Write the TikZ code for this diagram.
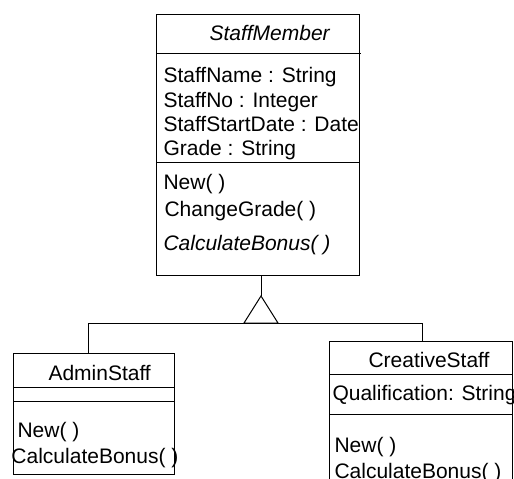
\documentclass[tikz,border=0pt]{standalone}
\usepackage{fontspec}
\setmainfont{Liberation Sans}
\begin{document}
\begin{tikzpicture}[x=1pt,y=-1pt,line width=1pt,
  txt/.style={anchor=base west,inner sep=0pt,font=\fontsize{21}{25}\selectfont},
  itxt/.style={txt,font=\fontsize{21}{25}\selectfont\itshape},
  cls/.style={draw,anchor=north west,inner sep=0pt}]
\useasboundingbox (0,0) rectangle (514,479);
% StaffMember
\node[cls,minimum width=203pt,minimum height=261pt] (sm) at (156,14) {};
\draw (156,53) -- (361,53);
\draw (156,162) -- (359,162);
\node[itxt] (smn) at (209,40) {StaffMember};
\node[txt] (a1) at (163,82) {StaffName : String};
\node[txt] (a2) at (163,107) {StaffNo : Integer};
\node[txt] (a3) at (163,131) {StaffStartDate : Date};
\node[txt] (a4) at (163,155) {Grade : String};
\node[txt] (m1) at (163,189) {New( )};
\node[txt] (m2) at (164,216) {ChangeGrade( )};
\node[itxt] (m3) at (163,250) {CalculateBonus( )};
% generalisation
\coordinate (apex) at (261,296);
\coordinate (bl) at (244,323);
\coordinate (br) at (278,323);
\coordinate (hl) at (88,323);
\coordinate (hr) at (422,323);
\draw (sm.south -| apex) -- (apex);
\draw (apex) -- (bl) -- (br) -- cycle;
% AdminStaff
\node[cls,minimum width=161pt,minimum height=121pt] (as) at (13,353) {};
\draw (13,387) -- (174,387);
\draw (13,401) -- (174,401);
\node[txt] (asn) at (48,380) {AdminStaff};
\node[txt] (as1) at (17,437) {New( )};
\node[txt] (as2) at (11,463) {CalculateBonus( )};
% CreativeStaff
\coordinate (csbl) at (329,485);
\coordinate (cstl) at (329,341);
\coordinate (cstr) at (512.5,341);
\coordinate (csbr) at (512.5,485);
\draw (csbl) -- (cstl) -- (cstr) -- (csbr);
\draw (329,374) -- (512.5,374);
\draw (329,414) -- (512.5,414);
\node[txt] (csn) at (368,367) {CreativeStaff};
\node[txt] (cs1) at (332,400) {Qualification: String};
\node[txt] (cs2) at (334,452) {New( )};
\node[txt] (cs3) at (334,478) {CalculateBonus( )};
% connectors
\draw (hl) -- (hr);
\draw (hl) -- (hl |- as.north);
\draw (hr) -- (hr |- cstl);
\end{tikzpicture}
\end{document}
